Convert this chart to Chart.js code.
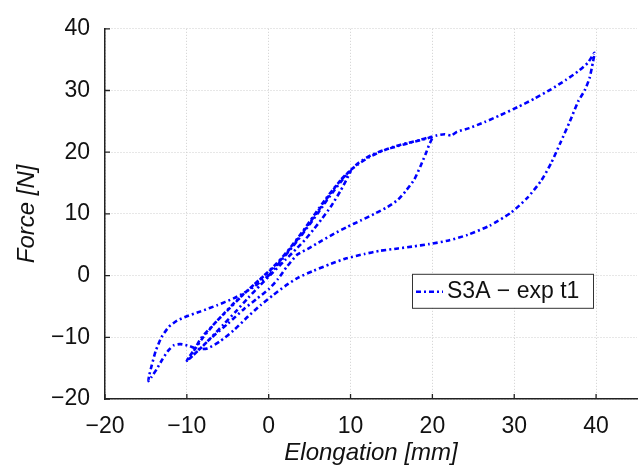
<!DOCTYPE html>
<html>
<head>
<meta charset="utf-8">
<script src="https://cdn.jsdelivr.net/npm/chart.js@4.4.0/dist/chart.umd.min.js"></script>
<style>
  html, body { margin: 0; padding: 0; background: #fff; }
  #wrap { width: 641px; height: 474px; }
</style>
</head>
<body>
<div id="wrap"><canvas id="loopChart"></canvas></div>
<script>
// cyclic test (mm, N)
const elongation = [
  0, 1, 2, 3, 4, 5, 6, 7, 8, 9, 10,
  9.6, 8.8, 7.6, 6.5, 5.5, 4.5, 3.5, 2, 0.5, -1, -2.5, -4, -5.5, -7, -8.5, -10,
  -9, -8.3, -7, -5.5, -4.2, -3, -1.5, 0, 1.5, 3, 4.5, 6, 7.5, 8.8, 10, 11, 12.3, 13.7, 15.3, 17, 18.5, 20,
  19.6, 19.2, 18.6, 17.8, 16.8, 15.8, 14.5, 12.9, 11.2, 9.6, 8, 6.4, 5, 3.5, 2.2, 1.1, 0, -1.5, -3, -5, -7.1, -8.5, -10,
  -9, -8, -6.5, -5, -3.5, -2, -0.5, 1, 2.5, 4, 5.5, 7, 8.5, 9.8, 11, 12.5, 14, 15.8, 17.5, 19.3, 20.5, 21.5, 22.3, 23,
  24.5, 26.4, 28.3, 30.4, 32.5, 34.5, 36.3, 37.8, 39, 39.8,
  39.6, 39.2, 38.6, 37.8, 36.8, 35.7, 34.5, 33.3, 31.6, 29.6, 27, 24.3, 22, 19.6, 17.5, 15.8, 13.5, 11.7, 9.5, 7.6,
  5.5, 3.5, 2, 0.5, -1, -2.5, -4.3, -6, -7.5, -8.7, -9.7, -10.8, -11.6, -12.3, -13, -13.7, -14.3, -14.7,
  -14.6, -14.3, -13.8, -13.1, -12.2, -11.2, -10, -8.3, -6.3, -4.3, -3, -1.8, -0.5, 0
];
const force = [
  0, 1.6, 3.2, 4.8, 6.5, 8.3, 10.1, 12, 13.8, 15.5, 16.9,
  15.8, 13.8, 11.2, 9.2, 7.5, 5.9, 4.5, 2.5, 0.5, -1.5, -3.6, -5.8, -7.9, -10, -12, -13.8,
  -11.8, -10.2, -8.3, -6.2, -4.4, -2.9, -1.1, 0.6, 2.6, 5, 7.6, 10.4, 13.2, 15.5, 17.1, 18.1, 19.2, 20.1, 20.9, 21.5, 22, 22.5,
  21.2, 19.8, 17.9, 15.6, 13.8, 12.3, 11.1, 10, 8.9, 7.9, 6.8, 5.6, 4.5, 3.4, 1.4, -0.6, -2.2, -3.8, -5.4, -7.8, -10.2, -12, -13.8,
  -11.9, -10, -7.6, -5.6, -3.6, -1.7, 0.1, 2, 4.3, 6.9, 9.7, 12.5, 15, 16.8, 18.3, 19.5, 20.3, 21, 21.6, 22.2, 22.7, 22.9, 22.7, 23.3,
  23.9, 24.9, 26, 27.3, 28.7, 30.2, 31.7, 33.1, 34.5, 36.1,
  34.5, 32, 30, 28.2, 25, 21.7, 18.2, 15.4, 12.6, 10.2, 8.1, 6.6, 5.7, 5.1, 4.7, 4.4, 4, 3.5, 2.8, 1.9,
  0.8, -0.4, -1.7, -3.2, -4.8, -6.6, -8.9, -10.7, -11.8, -11.9, -11.4, -11.1, -11.3, -12.2, -13.6, -15.2, -16.4, -17.1,
  -16.2, -14.6, -12.2, -10, -8.3, -7.3, -6.6, -5.8, -4.8, -3.7, -2.8, -1.8, -0.5, 0
];
const xTicks = [-20, -10, 0, 10, 20, 30, 40];
const yTicks = [-20, -10, 0, 10, 20, 30, 40];
const seriesLabel = 'S3A \u2212 exp t1';

const FONT = '"Liberation Sans", Arial, Helvetica, sans-serif';
const minus = v => (v < 0 ? '\u2212' + Math.abs(v) : String(v));

// inward tick marks + legend box inside the plot
const extras = {
  id: 'extras',
  afterDraw(chart) {
    const { ctx, chartArea: a, scales } = chart;
    ctx.save();
    ctx.strokeStyle = '#222';
    ctx.lineWidth = 1.3;
    ctx.beginPath();
    xTicks.forEach(v => {
      const px = scales.x.getPixelForValue(v);
      ctx.moveTo(px, a.bottom); ctx.lineTo(px, a.bottom - 5);
    });
    yTicks.forEach(v => {
      const py = scales.y.getPixelForValue(v);
      ctx.moveTo(a.left, py); ctx.lineTo(a.left + 5, py);
    });
    ctx.stroke();

    // legend
    const ds = chart.data.datasets[0];
    const bx = a.right - 225, by = a.top + 245, bw = 181, bh = 34;
    ctx.fillStyle = '#fff';
    ctx.fillRect(bx, by, bw, bh);
    ctx.strokeStyle = '#333';
    ctx.lineWidth = 1;
    ctx.setLineDash([]);
    ctx.strokeRect(bx + 0.5, by + 0.5, bw, bh);
    ctx.strokeStyle = ds.borderColor;
    ctx.lineWidth = ds.borderWidth;
    ctx.setLineDash(ds.borderDash);
    ctx.beginPath();
    ctx.moveTo(bx + 4, by + 18); ctx.lineTo(bx + 31, by + 18);
    ctx.stroke();
    ctx.setLineDash([]);
    ctx.fillStyle = '#111';
    ctx.font = '23px ' + FONT;
    ctx.textBaseline = 'middle';
    ctx.fillText(ds.label, bx + 35, by + 18);
    ctx.restore();
  }
};

const points = elongation.map((x, i) => ({ x: x, y: force[i] }));

new Chart(document.getElementById('loopChart'), {
  type: 'scatter',
  data: {
    datasets: [{
      label: seriesLabel,
      data: points,
      showLine: true,
      borderColor: '#0000ff',
      borderWidth: 2.6,
      borderDash: [5, 3, 2, 3],
      pointRadius: 0,
      tension: 0.2,
      fill: false
    }]
  },
  options: {
    responsive: true,
    maintainAspectRatio: false,
    animation: false,
    layout: { padding: { top: 19, right: 4, left: 0, bottom: 0 } },
    plugins: { legend: { display: false }, tooltip: { enabled: false } },
    scales: {
      x: {
        type: 'linear',
        min: -20, max: 45,
        afterBuildTicks: s => { s.ticks = xTicks.map(v => ({ value: v })); },
        afterFit: s => { s.height = 75; },
        ticks: { color: '#111', padding: 14, maxRotation: 0, font: { family: FONT, size: 23 }, callback: minus },
        grid: { color: '#cfcfcf', lineWidth: 1, drawTicks: false },
        border: { display: true, color: '#222', width: 1.5, dash: [1, 2] },
        title: { display: true, text: 'Elongation [mm]', color: '#111', padding: { top: 0, bottom: 6 },
                 font: { family: FONT, size: 24, style: 'italic' } }
      },
      y: {
        type: 'linear',
        min: -20, max: 40,
        afterBuildTicks: s => { s.ticks = yTicks.map(v => ({ value: v })); },
        afterFit: s => { s.width = 105; },
        ticks: { color: '#111', padding: 15, font: { family: FONT, size: 23 }, callback: minus },
        grid: { color: '#cfcfcf', lineWidth: 1, drawTicks: false },
        border: { display: true, color: '#222', width: 1.5, dash: [1, 2] },
        title: { display: true, text: 'Force [N]', color: '#111', padding: { top: 13, bottom: 0 },
                 font: { family: FONT, size: 24, style: 'italic' } }
      }
    }
  },
  plugins: [extras]
});
</script>
</body>
</html>
